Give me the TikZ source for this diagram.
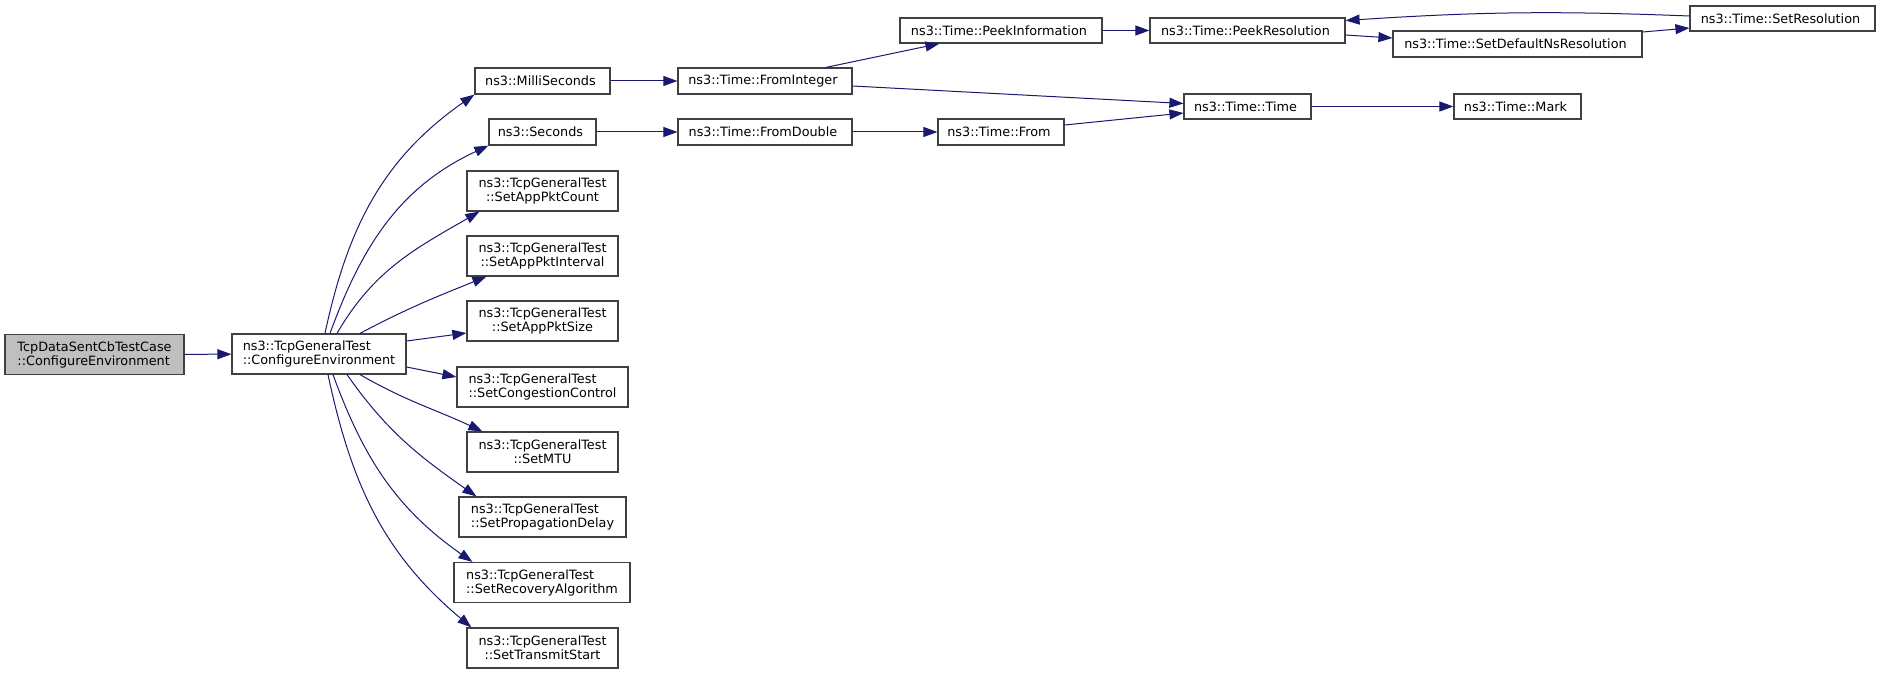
\documentclass[tikz,border=0pt]{standalone}
\usepackage{fontspec}
\setmainfont{DejaVu Sans}
\usepackage{tikz}
\usetikzlibrary{positioning, arrows.meta}

\definecolor{edgeblue}{HTML}{191970}
\definecolor{boxgray}{HTML}{404040}
\definecolor{rootfill}{HTML}{BFBFBF}

\begin{document}
\begin{tikzpicture}[x = 1pt, y = 1pt,
    fn/.style = { draw = boxgray, line width = 1.2pt, inner sep = 1pt, align = center,
                  minimum height = 26pt, font = \fontsize{12.8}{14}\selectfont },
    two/.style = { minimum height = 40pt },
    call/.style = { draw = edgeblue, line width = 1pt, -{Triangle[length = 14pt, width = 10pt]} }]
    \useasboundingbox (0,0) rectangle (1880,-674);

    \node [fn, two, fill = rootfill, minimum width = 179pt, align = left] (root) at (94.5,-354.5)
        { TcpDataSentCbTestCase \\ ::ConfigureEnvironment };
    \node [fn, two, minimum width = 174pt, align = left] (cfg) at (319,-354)
        { ns3::TcpGeneralTest \\ ::ConfigureEnvironment };

    \node [fn, minimum width = 135pt] (milli) at (542.5,-81) { ns3::MilliSeconds };
    \node [fn, minimum width = 107pt] (secs) at (542.5,-132) { ns3::Seconds };
    \node [fn, two, minimum width = 151pt] (pktcount) at (542.5,-191) { ns3::TcpGeneralTest \\ ::SetAppPktCount };
    \node [fn, two, minimum width = 151pt] (pktint) at (542.5,-256) { ns3::TcpGeneralTest \\ ::SetAppPktInterval };
    \node [fn, two, minimum width = 151pt] (pktsize) at (542.5,-321) { ns3::TcpGeneralTest \\ ::SetAppPktSize };
    \node [fn, two, minimum width = 171pt, align = left] (cong) at (542.5,-387) { ns3::TcpGeneralTest \\ ::SetCongestionControl };
    \node [fn, two, minimum width = 151pt] (mtu) at (542.5,-452) { ns3::TcpGeneralTest \\ ::SetMTU };
    \node [fn, two, minimum width = 167pt, align = left] (prop) at (542.5,-517) { ns3::TcpGeneralTest \\ ::SetPropagationDelay };
    \node [fn, two, minimum width = 176pt, align = left] (recov) at (542,-582.5) { ns3::TcpGeneralTest \\ ::SetRecoveryAlgorithm };
    \node [fn, two, minimum width = 151pt] (tstart) at (542.5,-648) { ns3::TcpGeneralTest \\ ::SetTransmitStart };

    \node [fn, minimum width = 174pt] (fromint) at (765,-81) { ns3::Time::FromInteger };
    \node [fn, minimum width = 174pt] (fromdbl) at (765,-132) { ns3::Time::FromDouble };
    \node [fn, minimum width = 202pt, minimum height = 25pt] (peekinfo) at (1001,-30.5) { ns3::Time::PeekInformation };
    \node [fn, minimum width = 126pt] (from) at (1001,-132) { ns3::Time::From };
    \node [fn, minimum width = 195pt, minimum height = 25pt] (peekres) at (1247.5,-30.5) { ns3::Time::PeekResolution };
    \node [fn, minimum width = 127pt, minimum height = 25pt] (time) at (1247.5,-106.5) { ns3::Time::Time };
    \node [fn, minimum width = 249pt] (setdef) at (1517.5,-44) { ns3::Time::SetDefaultNsResolution };
    \node [fn, minimum width = 127pt, minimum height = 25pt] (mark) at (1517.5,-106.5) { ns3::Time::Mark };
    \node [fn, minimum width = 185pt, minimum height = 25pt] (setres) at (1782.5,-18.5) { ns3::Time::SetResolution };

    \draw [call] (root) -- (cfg);
    \draw [call] ([xshift = 6pt]cfg.north) to [out = 78, in = -145] (milli.south west);
    \draw [call] ([xshift = 11pt]cfg.north) to [out = 70, in = -155] (secs.south west);
    \draw [call] ([xshift = 18pt]cfg.north) to [out = 60, in = -150] ([xshift = 13pt]pktcount.south west);
    \draw [call] ([xshift = 41pt]cfg.north) to [out = 28, in = -158] ([xshift = 20pt]pktint.south west);
    \draw [call] ([yshift = 13pt]cfg.east) -- ([yshift = -12pt]pktsize.west);
    \draw [call] ([yshift = -13pt]cfg.east) -- ([yshift = 10pt]cong.west);
    \draw [call] ([xshift = 41pt]cfg.south) to [out = -30, in = 155] ([xshift = 16pt]mtu.north west);
    \draw [call] ([xshift = 28pt]cfg.south) to [out = -55, in = 145] ([xshift = 18pt]prop.north west);
    \draw [call] ([xshift = 14pt]cfg.south) to [out = -70, in = 145] ([xshift = 19pt]recov.north west);
    \draw [call] ([xshift = 9pt]cfg.south) to [out = -78, in = 140] ([xshift = 5pt]tstart.north west);

    \draw [call] (milli) -- (fromint);
    \draw [call] (secs) -- (fromdbl);
    \draw [call] ([xshift = 61pt]fromint.north) -- ([xshift = 40pt]peekinfo.south west);
    \draw [call] ([yshift = -5pt]fromint.east) -- ([yshift = 3pt]time.west);
    \draw [call] (fromdbl) -- (from);
    \draw [call] ([yshift = 7pt]from.east) -- ([yshift = -6.5pt]time.west);
    \draw [call] (peekinfo) -- (peekres);
    \draw [call] ([yshift = -4.5pt]peekres.east) -- ([yshift = 6pt]setdef.west);
    \draw [call] ([yshift = 12pt]setdef.east) -- ([yshift = -9.5pt]setres.west);
    \draw [call] ([yshift = 2.5pt]setres.west) to [bend right = 3] ([yshift = 10pt]peekres.east);
    \draw [call] (time) -- (mark);
\end{tikzpicture}
\end{document}
